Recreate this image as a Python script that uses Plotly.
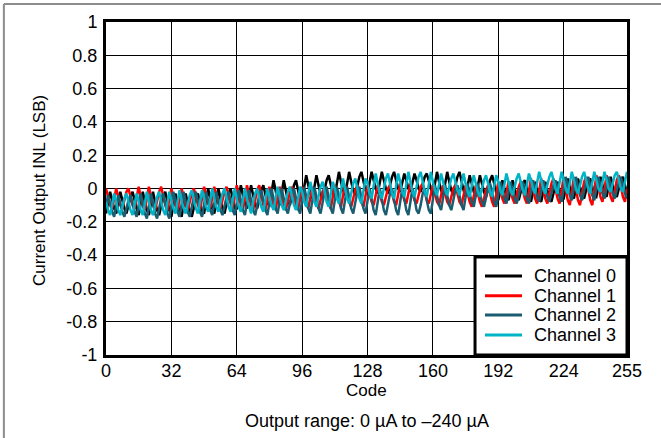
import plotly.graph_objects as go

codes = list(range(256))

# INL values in hundredths of an LSB (16 codes per row)
ch0_centi = [
    -15, -8, -2, -7, -12, -15, -8, -2, -7, -12, -15, -10, -5, -2, -8, -12,
    -16, -9, -2, -8, -13, -16, -9, -2, -8, -13, -16, -10, -5, -2, -8, -13,
    -17, -10, -3, -9, -14, -17, -10, -3, -9, -14, -17, -11, -6, -3, -9, -14,
    -15, -8, 0, -6, -12, -15, -8, 0, -6, -12, -15, -9, -3, 0, -7, -12,
    -12, -5, 2, -4, -9, -12, -5, 2, -4, -9, -12, -6, -1, 2, -4, -9,
    -10, -2, 5, -1, -7, -10, -2, 5, -1, -7, -10, -4, 2, 5, -2, -7,
    -6, 1, 8, 2, -3, -6, 1, 8, 2, -3, -6, 0, 5, 8, 2, -3,
    -4, 3, 10, 4, -1, -4, 3, 10, 4, -1, -4, 2, 7, 10, 4, -1,
    -3, 4, 10, 5, 0, -3, 4, 10, 5, 0, -3, 2, 7, 10, 4, 0,
    -2, 4, 9, 5, 0, -2, 4, 9, 5, 0, -2, 2, 7, 9, 4, 0,
    -4, 3, 10, 4, -1, -4, 3, 10, 4, -1, -4, 2, 7, 10, 4, -1,
    -5, 2, 8, 3, -2, -5, 2, 8, 3, -2, -5, 0, 5, 8, 2, -2,
    -7, -1, 5, 0, -5, -7, -1, 5, 0, -5, -7, -2, 3, 5, 0, -5,
    -8, -2, 4, -1, -6, -8, -2, 4, -1, -6, -8, -3, 2, 4, -1, -6,
    -6, 0, 6, 1, -4, -6, 0, 6, 1, -4, -6, -1, 4, 6, 1, -4,
    -5, 1, 7, 2, -3, -5, 1, 7, 2, -3, -5, 0, 5, 7, 2, -3,
]
ch1_centi = [
    0, -5, -10, -12, -6, 0, -5, -10, -12, -7, -2, 0, -5, -10, -12, -6,
    1, -5, -10, -13, -6, 1, -5, -10, -13, -7, -2, 1, -5, -10, -13, -6,
    0, -5, -10, -13, -6, 0, -5, -10, -13, -8, -3, 0, -6, -10, -13, -6,
    1, -4, -9, -12, -5, 1, -4, -9, -12, -7, -2, 1, -5, -9, -12, -5,
    2, -4, -10, -13, -5, 2, -4, -10, -13, -7, -1, 2, -5, -10, -13, -5,
    1, -5, -10, -13, -6, 1, -5, -10, -13, -7, -2, 1, -5, -10, -13, -6,
    1, -4, -9, -12, -5, 1, -4, -9, -12, -7, -2, 1, -5, -9, -12, -5,
    2, -3, -8, -11, -4, 2, -3, -8, -11, -6, -1, 2, -4, -8, -11, -4,
    2, -3, -8, -10, -4, 2, -3, -8, -10, -5, 0, 2, -3, -8, -10, -4,
    3, -2, -7, -9, -3, 3, -2, -7, -9, -4, 1, 3, -2, -7, -9, -3,
    2, -3, -8, -10, -4, 2, -3, -8, -10, -5, 0, 2, -3, -8, -10, -4,
    2, -3, -8, -11, -4, 2, -3, -8, -11, -6, -1, 2, -4, -8, -11, -4,
    4, -1, -6, -9, -2, 4, -1, -6, -9, -4, 1, 4, -2, -6, -9, -2,
    6, 0, -6, -9, -1, 6, 0, -6, -9, -3, 3, 6, -1, -6, -9, -1,
    7, 0, -7, -10, -1, 7, 0, -7, -10, -3, 4, 7, -1, -7, -10, -1,
    8, 2, -5, -8, 0, 8, 2, -5, -8, -2, 5, 8, 1, -5, -8, 0,
]
ch2_centi = [
    -10, -4, -9, -14, -17, -10, -4, -9, -14, -17, -12, -7, -4, -10, -14, -17,
    -10, -3, -9, -15, -18, -10, -3, -9, -15, -18, -12, -6, -3, -10, -15, -18,
    -9, -2, -8, -14, -17, -9, -2, -8, -14, -17, -11, -5, -2, -9, -14, -17,
    -9, -2, -8, -13, -16, -9, -2, -8, -13, -16, -10, -5, -2, -8, -13, -16,
    -8, -1, -7, -13, -16, -8, -1, -7, -13, -16, -10, -4, -1, -8, -13, -16,
    -8, 0, -6, -12, -15, -8, 0, -6, -12, -15, -9, -3, 0, -7, -12, -15,
    -7, 1, -5, -12, -15, -7, 1, -5, -12, -15, -9, -2, 1, -6, -12, -15,
    -7, 1, -5, -12, -15, -7, 1, -5, -12, -15, -9, -2, 1, -6, -12, -15,
    -8, 0, -6, -13, -16, -8, 0, -6, -13, -16, -10, -3, 0, -7, -13, -16,
    -8, 0, -6, -13, -16, -8, 0, -6, -13, -15, -10, -3, 0, -7, -13, -15,
    -5, 2, -4, -10, -13, -5, 2, -4, -10, -13, -7, -1, 2, -5, -10, -13,
    -4, 3, -3, -8, -11, -4, 3, -3, -8, -11, -5, 0, 3, -3, -8, -11,
    -2, 4, -1, -6, -9, -2, 4, -1, -6, -9, -4, 1, 4, -2, -6, -9,
    -1, 5, 0, -5, -8, -1, 5, 0, -5, -8, -3, 2, 5, -1, -5, -8,
    0, 7, 1, -4, -7, 0, 7, 1, -4, -7, -1, 4, 7, 1, -4, -7,
    1, 7, 2, -3, -6, 1, 7, 2, -3, -6, -1, 4, 7, 1, -3, -6,
]
ch3_centi = [
    -8, -13, -16, -10, -3, -8, -13, -16, -11, -6, -3, -9, -13, -16, -10, -3,
    -8, -13, -16, -9, -2, -8, -13, -16, -10, -5, -2, -8, -13, -16, -9, -2,
    -7, -12, -15, -8, -1, -7, -12, -15, -9, -4, -1, -7, -12, -15, -8, -1,
    -6, -11, -14, -7, 0, -6, -11, -14, -8, -3, 0, -6, -11, -14, -7, 0,
    -6, -11, -14, -7, 0, -6, -11, -15, -8, -3, 0, -6, -11, -14, -7, 0,
    -5, -10, -13, -6, 1, -5, -10, -13, -7, -2, 1, -5, -10, -13, -6, 1,
    -2, -8, -11, -3, 4, -2, -8, -11, -5, 1, 4, -3, -8, -11, -3, 4,
    0, -6, -9, -1, 6, 0, -6, -9, -3, 3, 6, -1, -6, -9, -1, 6,
    3, -3, -6, 2, 9, 3, -3, -6, 0, 6, 9, 2, -3, -6, 2, 9,
    4, -2, -5, 3, 10, 4, -2, -5, 1, 7, 10, 3, -2, -5, 3, 10,
    4, -1, -4, 3, 9, 4, -1, -4, 1, 6, 9, 3, -1, -4, 3, 9,
    3, -2, -5, 2, 8, 3, -2, -5, 0, 5, 8, 2, -2, -5, 2, 8,
    4, -1, -4, 3, 9, 4, -1, -4, 1, 6, 9, 3, -1, -4, 3, 9,
    5, 0, -3, 4, 10, 5, 0, -3, 2, 7, 10, 4, 0, -3, 4, 10,
    5, 0, -3, 4, 10, 5, 0, -3, 2, 7, 10, 4, 0, -3, 4, 10,
    5, 0, -2, 4, 10, 5, 0, -2, 3, 8, 10, 5, 0, -2, 4, 10,
]

series_names = ["Channel 0", "Channel 1", "Channel 2", "Channel 3"]
series_centi = [ch0_centi, ch1_centi, ch2_centi, ch3_centi]
series_colors = ["#000000", "#ff0000", "#1b5d70", "#00b4c8"]

x_tickvals = [0, 32, 64, 96, 128, 160, 192, 224, 255]
y_tickvals = [1, 0.8, 0.6, 0.4, 0.2, 0, -0.2, -0.4, -0.6, -0.8, -1]
y_ticktext = ["1", "0.8", "0.6", "0.4", "0.2", "0", "-0.2", "-0.4", "-0.6", "-0.8", "-1"]

FONT = "Liberation Sans, Arial, sans-serif"

fig = go.Figure()
for name, vals, col in zip(series_names, series_centi, series_colors):
    fig.add_trace(go.Scatter(
        x=codes, y=[v / 100 for v in vals], mode="lines", name=name,
        line=dict(color=col, width=2.5), showlegend=False,
    ))

fig.update_layout(
    width=661, height=438,
    margin=dict(l=106, r=34, t=22, b=83),
    paper_bgcolor="white", plot_bgcolor="white",
    font=dict(family=FONT, size=18, color="#000000"),
    showlegend=False,
    xaxis=dict(
        range=[0, 255], tickvals=x_tickvals, ticktext=[str(v) for v in x_tickvals],
        showgrid=True, gridcolor="#000000", gridwidth=1,
        showline=True, linecolor="#000000", linewidth=3, mirror=True,
        ticks="", ticklen=0, zeroline=False, ticklabelstandoff=-3,
        tickfont=dict(size=18),
    ),
    yaxis=dict(
        range=[-1, 1], tickvals=y_tickvals, ticktext=y_ticktext,
        showgrid=True, gridcolor="#000000", gridwidth=1,
        showline=True, linecolor="#000000", linewidth=3, mirror=True,
        ticks="", ticklen=0, zeroline=False, ticklabelstandoff=2,
        tickfont=dict(size=18),
    ),
)

# legend box drawn in the lower right corner of the plot
fig.add_shape(type="rect", xref="paper", yref="paper",
              x0=0.7083, x1=1.0, y0=0.0, y1=0.2943,
              fillcolor="white", line=dict(color="#000000", width=3), layer="above")
legend_rows_y = [0.2372, 0.1781, 0.1201, 0.0601]
for name, col, ry in zip(series_names, series_colors, legend_rows_y):
    fig.add_shape(type="line", xref="paper", yref="paper",
                  x0=0.7274, x1=0.7985, y0=ry, y1=ry,
                  line=dict(color=col, width=3), layer="above")
    fig.add_annotation(text=name, xref="paper", yref="paper",
                       x=0.8177, y=ry, xanchor="left", yanchor="middle",
                       showarrow=False, font=dict(size=18, family=FONT))

fig.add_annotation(
    text="Current Output INL (LSB)", xref="paper", yref="paper",
    x=-0.1267, y=0.4955, xanchor="center", yanchor="middle", textangle=-90,
    showarrow=False, font=dict(size=17, family=FONT),
)
fig.add_annotation(
    text="Code", xref="paper", yref="paper",
    x=0.5, y=-0.106, xanchor="center", yanchor="middle",
    showarrow=False, font=dict(size=17, family=FONT),
)
fig.add_annotation(
    text="Output range: 0 µA to \u2013240 µA", xref="paper", yref="paper",
    x=0.5, y=-0.198, xanchor="center", yanchor="middle", showarrow=False,
    font=dict(size=18, family=FONT),
)

# outer frame lines (top and left), as in the reference
fig.add_shape(type="line", xref="paper", yref="paper",
              x0=-0.196, x1=1.07, y0=1.054, y1=1.054,
              line=dict(color="#8c8c8c", width=2))
fig.add_shape(type="line", xref="paper", yref="paper",
              x0=-0.196, x1=-0.196, y0=1.054, y1=-0.26,
              line=dict(color="#8c8c8c", width=2))

fig.write_html("out.html", config={"displayModeBar": False},
               post_script="document.body.style.margin='0';")
